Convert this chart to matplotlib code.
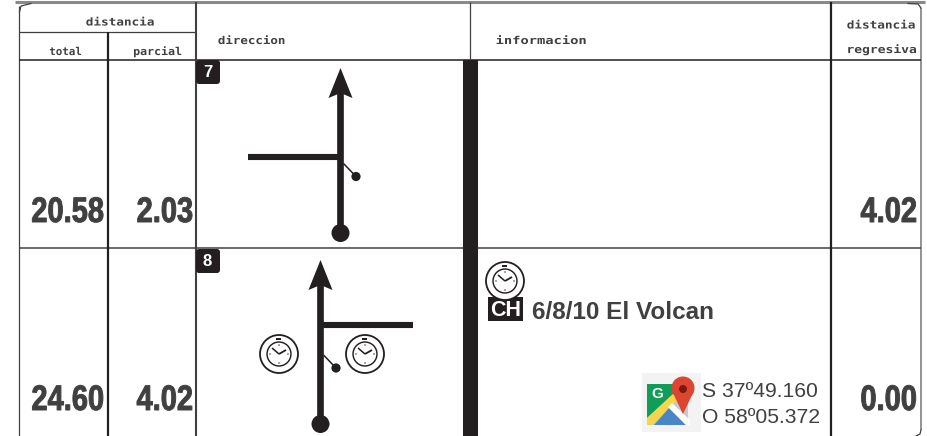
import matplotlib
matplotlib.use('Agg')
import matplotlib.pyplot as plt
from matplotlib.patches import Circle, FancyBboxPatch, Polygon, Rectangle
from matplotlib.patheffects import AbstractPathEffect
from matplotlib.transforms import Affine2D

# textos de la hoja de ruta
total = ['20.58', '24.60']
parcial = ['2.03', '4.02']
regresiva = ['4.02', '0.00']
pasos = ['7', '8']
info = '6/8/10 El Volcan'
coords = ['S 37º49.160', 'O 58º05.372']

DARK = '#231f20'
GREY = '#404041'
SANS = 'Liberation Sans'
HEAD = 'DejaVu Sans Mono'

fig = plt.figure(figsize=(9.28, 4.36), dpi=100)
ax = fig.add_axes([0, 0, 1, 1])
ax.set_xlim(0, 928)
ax.set_ylim(436, 0)
ax.axis('off')


class Ancho(AbstractPathEffect):
    # estira el texto en horizontal alrededor de x0 (los ejes van en pixeles)
    def __init__(self, x0, factor, trazo=0):
        super().__init__()
        self.x0 = x0
        self.factor = factor
        self.trazo = trazo

    def draw_path(self, renderer, gc, tpath, affine, rgbFace=None):
        t = Affine2D().translate(-self.x0, 0).scale(self.factor, 1).translate(self.x0, 0)
        gc0 = renderer.new_gc()
        gc0.copy_properties(gc)
        if self.trazo:
            gc0.set_linewidth(self.trazo)
            gc0.set_foreground(rgbFace)
        renderer.draw_path(gc0, tpath, affine + t, rgbFace)
        gc0.restore()


def linea(x0, y0, x1, y1, lw=1.5, color=DARK, **kw):
    ax.plot([x0, x1], [y0, y1], color=color, lw=lw, solid_capstyle='butt', **kw)


def flecha(x, y_tip, y_end):
    # cabeza con muesca, tronco y punto de salida
    linea(x, y_tip + 24, x, y_end, lw=4.8)
    ax.add_patch(Polygon([(x, y_tip), (x + 12, y_tip + 30), (x, y_tip + 25), (x - 12, y_tip + 30)],
                         closed=True, fc=DARK, ec='none', zorder=3))
    ax.add_patch(Circle((x, y_end), 9, fc=DARK, ec='none', zorder=3))


def reloj(x, y, r=19, lw=1.3):
    ax.add_patch(Circle((x, y), r, fc='white', ec=DARK, lw=lw, zorder=4))
    ax.add_patch(Circle((x, y), r * 0.63, fc='white', ec=DARK, lw=lw * 0.8, zorder=4))
    linea(x, y, x - 7, y - 6, lw=1.1, zorder=5)
    linea(x, y, x + 7, y - 4, lw=1.3, zorder=5)
    for dx, dy in [(0, -9), (9, 0), (0, 9), (-9, 0)]:
        ax.add_patch(Circle((x + dx, y + dy), 0.7, fc=DARK, ec='none', zorder=5))
    ax.add_patch(Rectangle((x - 2.5, y - r * 0.84), 5, 1.6, fc=DARK, ec='none', zorder=5))


def marca(x, dot_x, dot_y):
    linea(x + 3, dot_y - 13, dot_x, dot_y, lw=1.1)
    ax.add_patch(Circle((dot_x, dot_y), 4.6, fc=DARK, ec='none', zorder=3))


def cabecera(x, y, txt, factor):
    t = ax.text(x, y, txt, family=HEAD, weight='bold', fontsize=7.8, color=GREY, ha='center', va='center')
    t.set_path_effects([Ancho(x, factor)])


# marco y lineas de la tabla
linea(15, 2, 925, 2, lw=2.2, color='#8a8a8a')
linea(19.5, 6, 19.5, 436, lw=0.9, color=GREY)
linea(921, 8, 921, 430, lw=1.2, color='#808080')
ax.plot([19.5, 21, 31], [12, 6, 3.5], color=GREY, lw=0.9)
ax.plot([908, 918, 921], [3.5, 4, 8], color=GREY, lw=0.9)
ax.plot([921, 920, 916], [430, 434, 436], color=GREY, lw=0.9)
linea(19.5, 32, 195, 32, lw=0.9, color=GREY)
linea(19.5, 60.5, 921, 60.5, lw=1.1)
linea(19.5, 248, 921, 248, lw=1.1, color=GREY)
linea(108, 32, 108, 436, lw=1.6)
linea(196, 2, 196, 436, lw=1.5, color=GREY)
linea(470.5, 2, 470.5, 60, lw=0.9, color=GREY)
linea(831, 2, 831, 436, lw=1.6)
ax.add_patch(Rectangle((463, 60), 15, 376, fc=DARK, ec='none', zorder=3))

# cabeceras
cabecera(120, 22.5, 'distancia', 1.17)
cabecera(65.5, 52, 'total', 1.0)
cabecera(157.5, 52, 'parcial', 1.07)
cabecera(251.5, 41, 'direccion', 1.15)
cabecera(541, 41, 'informacion', 1.27)
cabecera(881, 25.5, 'distancia', 1.17)
cabecera(881.5, 50, 'regresiva', 1.2)

# distancias
for vals, x in [(total, 104), (parcial, 193), (regresiva, 917)]:
    for val, y in zip(vals, [222, 410]):
        t = ax.text(x, y, val, family=SANS, weight='bold', fontsize=25.5, color=GREY,
                    ha='right', va='baseline')
        t.set_path_effects([Ancho(x, 0.82, trazo=0.7)])

# numero de paso
for paso, y in zip(pasos, [60, 249]):
    ax.add_patch(FancyBboxPatch((198, y + 2), 20, 20, boxstyle='round,pad=2,rounding_size=3',
                                fc=DARK, ec='none', zorder=4))
    ax.text(207.5, y + 12.5, paso, family=SANS, weight='bold', fontsize=12,
            color='white', ha='center', va='center', zorder=5)

# paso 7
flecha(340.5, 68, 233)
linea(248, 157, 338, 157, lw=4.4)
marca(340.5, 356, 176.5)

# paso 8
flecha(320.5, 260, 424)
linea(323, 325, 413, 325, lw=4.4)
marca(320.5, 336, 368)
reloj(279, 354)
reloj(365, 354)

# informacion
ax.add_patch(Rectangle((488, 297), 35, 24, fc=DARK, ec='none', zorder=3))
reloj(505, 281)
ax.text(505.5, 310, 'CH', family=SANS, weight='bold', fontsize=15.5, color='white',
        ha='center', va='center', zorder=5)
ax.text(532, 319, info, family=SANS, weight='bold', fontsize=17.5, color=GREY,
        ha='left', va='baseline')

# icono del mapa
ax.add_patch(Rectangle((642, 373), 59, 59, fc='#f3f3f3', ec='none'))
ax.add_patch(Rectangle((647, 384), 41, 41, fc='#c9c9c7', ec='none'))
ax.add_patch(Polygon([(647, 384), (676, 384), (676, 392), (647, 418)], closed=True, fc='#0f9d58', ec='none'))
ax.add_patch(Polygon([(647, 418), (675, 392), (679, 399), (652, 425), (647, 425)], closed=True,
                     fc='#f6d54a', ec='none'))
ax.add_patch(Polygon([(654, 425), (669, 408), (686, 425)], closed=True, fc='#4a86c5', ec='none'))
ax.add_patch(Polygon([(668, 407), (672, 403), (690, 420), (690, 425), (686, 425)], closed=True, fc='white', ec='none'))
ax.add_patch(Polygon([(672.5, 392), (693.5, 392), (683, 414)], closed=True, fc='#dc4530', ec='none'))
ax.add_patch(Circle((683, 388), 11.5, fc='#dc4530', ec='none'))
ax.add_patch(Circle((683, 389), 4, fc='#7d1711', ec='none'))
ax.text(657, 394, 'G', family=SANS, weight='bold', fontsize=11, color='white',
        ha='center', va='center')

for txt, y in zip(coords, [397, 423]):
    ax.text(702, y, txt, family=SANS, fontsize=15.2, color=GREY, ha='left', va='baseline')

fig.savefig('out.png', dpi=100)
